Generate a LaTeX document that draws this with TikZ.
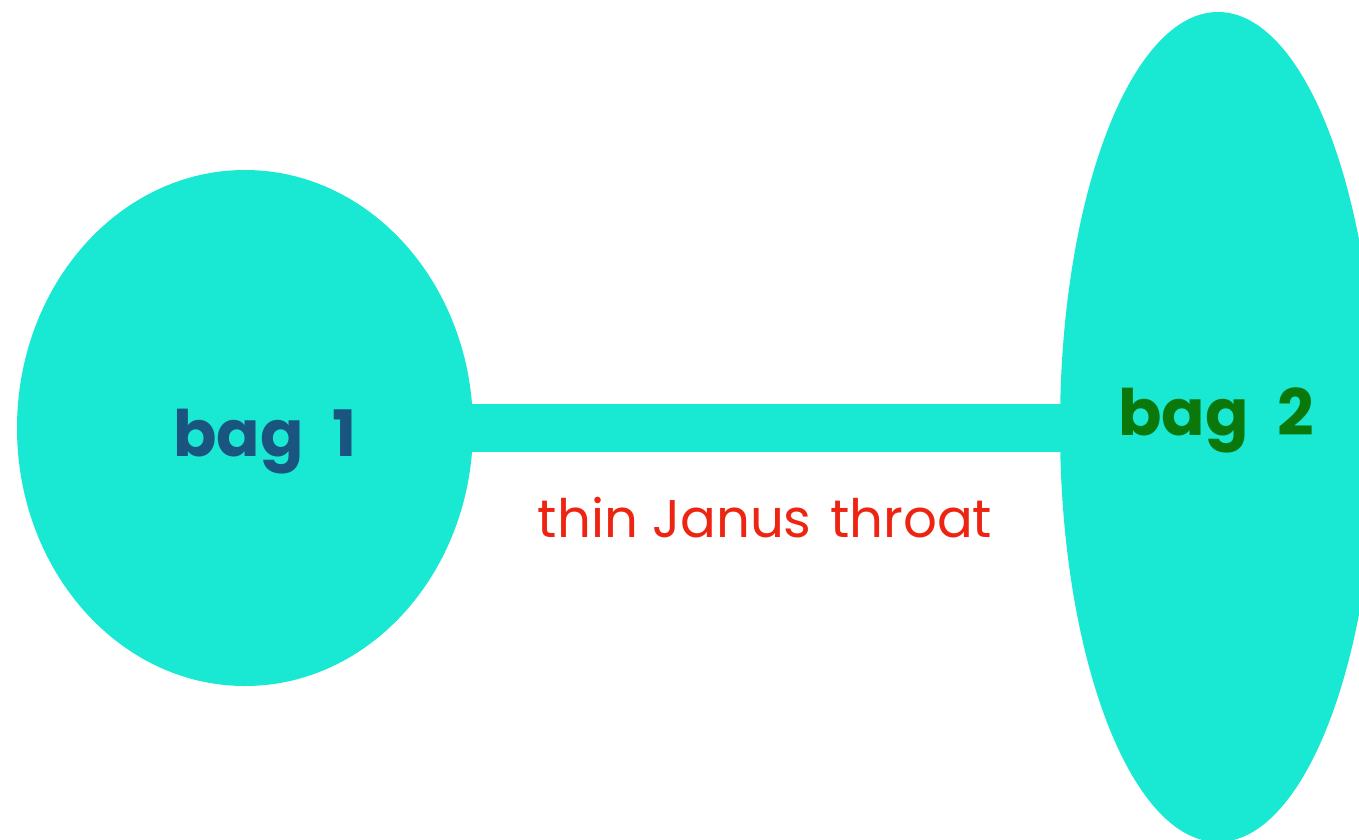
\documentclass[tikz,border=0pt]{standalone}
\usepackage{fontspec}
\setmainfont{Poppins}
\usetikzlibrary{shapes.geometric}
\definecolor{bagfill}{HTML}{19E8D2}
\definecolor{bagblue}{HTML}{1A5580}
\definecolor{baggreen}{HTML}{0A780A}
\definecolor{throatred}{HTML}{EE2412}
\tikzset{
  bag/.style={ellipse, fill=bagfill, draw=none, inner sep=0pt},
  baglabel/.style={font=\fontsize{64}{68}\selectfont\bfseries, inner sep=0pt},
  throatlabel/.style={font=\fontsize{53}{58}\selectfont, text=throatred, inner sep=0pt}
}
\begin{document}
\begin{tikzpicture}[x=1pt,y=-1pt]
  \useasboundingbox (0,0) rectangle (1359,839);
  % the two bags
  \node[bag, minimum width=456pt, minimum height=516pt] (bag1) at (245,428) {};
  \node[bag, minimum width=316pt, minimum height=830pt] (bag2) at (1218,427) {};
  % the throat joining them
  \coordinate (throatL) at (465,428);
  \coordinate (throatR) at (1066,428);
  \draw[bagfill, line width=48pt] (throatL) -- (throatR);
  % labels
  \node[baglabel, text=bagblue] (l1) at (265,442) {bag\hspace{0.45em}1};
  \node[baglabel, text=baggreen] (l2) at (1216,420) {bag\hspace{0.45em}2};
  \node[throatlabel] (lt) at (765,518) {thin Janus\hspace{0.35em}throat};
\end{tikzpicture}
\end{document}
